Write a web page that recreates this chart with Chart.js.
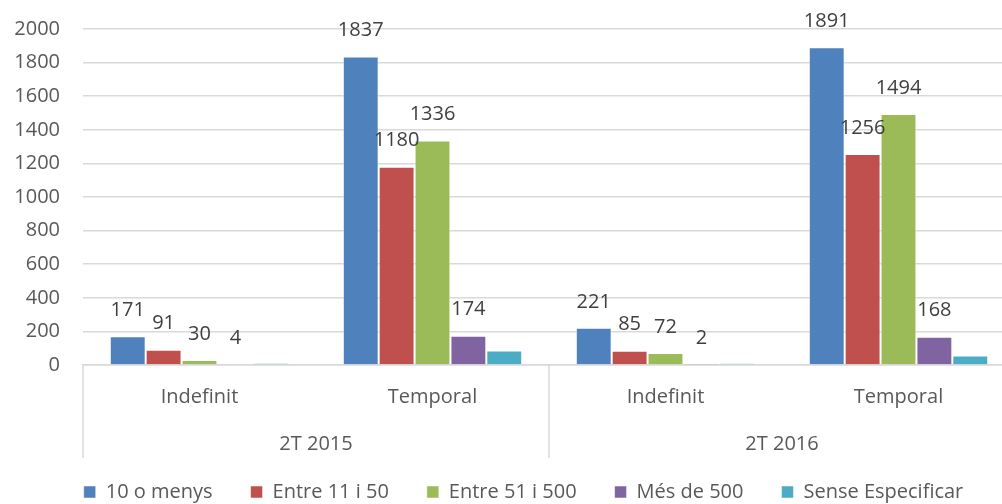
<!DOCTYPE html>
<html>
<head>
<meta charset="utf-8">
<script src="https://cdn.jsdelivr.net/npm/chart.js@4"></script>
<style>
    html, body { margin: 0; padding: 0; background: #fff; overflow: hidden; }
    #wrap { width: 1046px; height: 504px; position: relative; }
</style>
</head>
<body>
<div id="wrap"><canvas id="grafik"></canvas></div>
<script>
// Data
const kategori = ['Indefinit', 'Temporal', 'Indefinit', 'Temporal'];
const periode = ['2T 2015', '2T 2016'];
const yTicks = [0, 200, 400, 600, 800, 1000, 1200, 1400, 1600, 1800, 2000];

const menys10 = [171, 1837, 221, 1891];
const entre11_50 = [91, 1180, 85, 1256];
const entre51_500 = [30, 1336, 72, 1494];
const mes500 = [4, 174, 2, 168];
const senseEsp = [10, 86, 9, 57];

const FONT = '"Open Sans", sans-serif';

// Label di atas bar (kecuali seri terakhir)
const labelPlugin = {
    id: 'labelBar',
    afterDatasetsDraw(chart) {
        const ctx = chart.ctx;
        ctx.save();
        ctx.font = '20px ' + FONT;
        ctx.fillStyle = '#404040';
        ctx.textAlign = 'center';
        ctx.textBaseline = 'middle';
        chart.data.datasets.forEach((ds, i) => {
            if (i === 4) return;
            chart.getDatasetMeta(i).data.forEach((bar, j) => {
                ctx.fillText(ds.data[j], bar.x, bar.y - 26);
            });
        });
        ctx.restore();
    }
};

// Sumbu kategori bertingkat (garis pemisah + periode)
const periodePlugin = {
    id: 'periode',
    afterDraw(chart) {
        const ctx = chart.ctx;
        const x = chart.scales.x;
        const top = chart.chartArea.bottom;
        const bottom = top + 93;
        const mid = (x.left + x.right) / 2;
        ctx.save();
        ctx.strokeStyle = '#d9d9d9';
        ctx.lineWidth = 1.5;
        [x.left, mid, x.right].forEach(px => {
            ctx.beginPath();
            ctx.moveTo(px, top);
            ctx.lineTo(px, bottom);
            ctx.stroke();
        });
        ctx.font = '20px ' + FONT;
        ctx.fillStyle = '#595959';
        ctx.textAlign = 'center';
        ctx.textBaseline = 'middle';
        ctx.fillText(periode[0], (x.left + mid) / 2, top + 79);
        ctx.fillText(periode[1], (mid + x.right) / 2, top + 79);
        ctx.restore();
    }
};

// Legend: tinggi tetap dan digeser sedikit ke kanan
const legendFitPlugin = {
    id: 'legendFit',
    beforeLayout(chart) {
        const lg = chart.legend;
        if (!lg || lg._patched) return;
        const asliFit = lg.fit;
        lg.fit = function() {
            asliFit.call(this);
            this.height = 60;
        };
        const asliDraw = lg.draw;
        lg.draw = function() {
            const c = this.ctx;
            c.save();
            c.translate(16, 0);
            asliDraw.call(this);
            c.restore();
        };
        lg._patched = true;
    }
};

function seri(label, data, warna) {
    return {
        label: label,
        data: data,
        backgroundColor: warna,
        borderColor: 'rgba(255,255,255,0.5)',
        borderWidth: 1,
        categoryPercentage: 0.77,
        barPercentage: 1
    };
}

const ctx = document.getElementById('grafik').getContext('2d');
new Chart(ctx, {
    type: 'bar',
    data: {
        labels: kategori,
        datasets: [
            seri('10 o menys', menys10, '#4F81BD'),
            seri('Entre 11 i 50', entre11_50, '#C0504D'),
            seri('Entre 51 i 500', entre51_500, '#9BBB59'),
            seri('Més de 500', mes500, '#8064A2'),
            seri('Sense Especificar', senseEsp, '#4BACC6')
        ]
    },
    plugins: [labelPlugin, periodePlugin, legendFitPlugin],
    options: {
        responsive: true,
        maintainAspectRatio: false,
        animation: false,
        layout: { padding: { top: 29, right: 31, left: 0, bottom: 0 } },
        plugins: {
            tooltip: { enabled: false },
            legend: {
                position: 'bottom',
                labels: {
                    font: { family: FONT, size: 20 },
                    color: '#595959',
                    boxWidth: 12,
                    boxHeight: 12,
                    padding: 38
                }
            }
        },
        scales: {
            x: {
                grid: { display: false, drawTicks: false },
                border: { color: '#d9d9d9', width: 1.5 },
                ticks: {
                    font: { family: FONT, size: 20 },
                    color: '#595959',
                    padding: 20
                },
                afterFit: function(scale) { scale.height = 79; }
            },
            y: {
                min: 0,
                max: 2000,
                afterBuildTicks: function(scale) {
                    scale.ticks = yTicks.map(v => ({ value: v }));
                },
                grid: { color: '#d9d9d9', lineWidth: 1.5, drawTicks: false },
                border: { display: false },
                ticks: {
                    font: { family: FONT, size: 20 },
                    color: '#595959',
                    padding: 23,
                    callback: function(value) { return String(value); }
                },
                afterFit: function(scale) {
                    scale.width = 83;
                    scale.paddingTop = 0;
                    scale.paddingBottom = 0;
                }
            }
        }
    }
});
</script>
</body>
</html>
